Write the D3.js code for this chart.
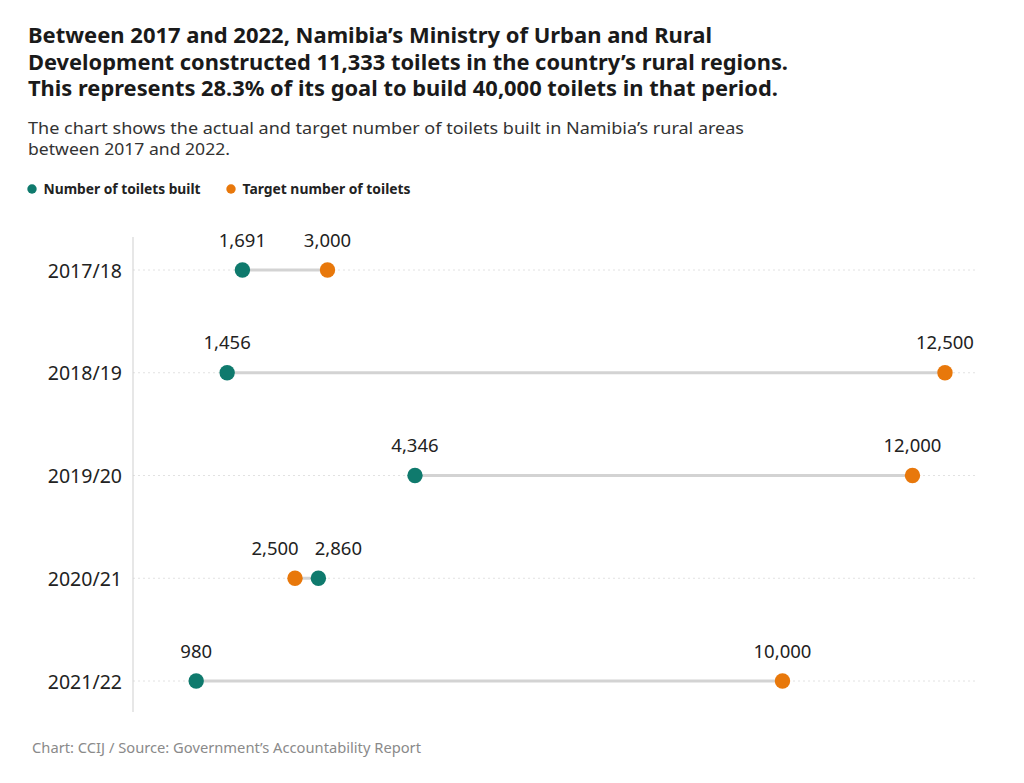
<!DOCTYPE html>
<html>
<head>
<meta charset="utf-8">
<script src="https://cdn.jsdelivr.net/npm/d3@7"></script>
<style>
  body { margin: 0; background: #fff; }
  text { font-family: "Noto Sans", sans-serif; }
</style>
</head>
<body>
<div id="chart"></div>
<script>
// data
const years = ["2017/18", "2018/19", "2019/20", "2020/21", "2021/22"];
const built = [1691, 1456, 4346, 2860, 980];
const target = [3000, 12500, 12000, 2500, 10000];

const seriesNames = ["Number of toilets built", "Target number of toilets"];
const colors = ["#0f7a6d", "#e8780b"];

const W = 1024, H = 783;
const margin = { top: 270, right: 49, bottom: 102, left: 133 };

const svg = d3.select("#chart")
    .append("svg")
    .attr("width", W)
    .attr("height", H);

// title + subtitle
const titleLines = [
    "Between 2017 and 2022, Namibia\u2019s Ministry of Urban and Rural",
    "Development constructed 11,333 toilets in the country\u2019s rural regions.",
    "This represents 28.3% of its goal to build 40,000 toilets in that period."
];
const titleWidths = [684, 760, 750];
svg.append("g")
    .selectAll("text")
    .data(titleLines)
    .join("text")
    .attr("x", 28)
    .attr("y", (d, i) => 43 + i * 26.6)
    .attr("font-size", 20.5)
    .attr("font-weight", "bold")
    .attr("fill", "#1a1a1a")
    .attr("textLength", (d, i) => titleWidths[i])
    .attr("lengthAdjust", "spacingAndGlyphs")
    .text(d => d);

const subLines = [
    "The chart shows the actual and target number of toilets built in Namibia\u2019s rural areas",
    "between 2017 and 2022."
];
const subWidths = [716, 202];
svg.append("g")
    .selectAll("text")
    .data(subLines)
    .join("text")
    .attr("x", 28)
    .attr("y", (d, i) => 134 + i * 21)
    .attr("font-size", 16.5)
    .attr("fill", "#333")
    .attr("textLength", (d, i) => subWidths[i])
    .attr("lengthAdjust", "spacingAndGlyphs")
    .text(d => d);

// legend
const legendX = [32, 231];
const legendW = [157, 168];
const legend = svg.append("g")
    .selectAll("g")
    .data(seriesNames)
    .join("g")
    .attr("transform", (d, i) => "translate(" + legendX[i] + ",189)");
legend.append("circle")
    .attr("r", 4.7)
    .attr("fill", (d, i) => colors[i]);
legend.append("text")
    .attr("x", 11.5)
    .attr("y", 5)
    .attr("font-size", 14)
    .attr("font-weight", "bold")
    .attr("fill", "#222")
    .attr("textLength", (d, i) => legendW[i])
    .attr("lengthAdjust", "spacingAndGlyphs")
    .text(d => d);

// scales
const x = d3.scaleLinear()
    .domain([0, 12962])
    .range([132.5, W - margin.right]);

const y = d3.scalePoint()
    .domain(years)
    .range([margin.top, H - margin.bottom]);

const rows = years.map((yr, i) => ({ year: yr, built: built[i], target: target[i] }));

// dotted gridlines
svg.append("g")
    .selectAll("line")
    .data(rows)
    .join("line")
    .attr("x1", margin.left)
    .attr("x2", x.range()[1])
    .attr("y1", d => y(d.year))
    .attr("y2", d => y(d.year))
    .attr("stroke", "#e2e2e2")
    .attr("stroke-width", 1)
    .attr("stroke-dasharray", "2,3");

// y axis line
svg.append("line")
    .attr("x1", margin.left)
    .attr("x2", margin.left)
    .attr("y1", 237)
    .attr("y2", 712)
    .attr("stroke", "#cfcfcf")
    .attr("stroke-width", 1);

// year labels
const yAxis = d3.axisLeft(y).tickSize(0).tickPadding(11);
svg.append("g")
    .attr("transform", "translate(" + margin.left + ",0)")
    .call(yAxis)
    .call(g => g.select(".domain").remove())
    .selectAll("text")
    .attr("font-family", "Noto Sans")
    .attr("font-size", 19.5)
    .attr("fill", "#222")
    .attr("dy", "0.36em");

// connecting lines
svg.append("g")
    .selectAll("line")
    .data(rows)
    .join("line")
    .attr("x1", d => x(d.built))
    .attr("x2", d => x(d.target))
    .attr("y1", d => y(d.year))
    .attr("y2", d => y(d.year))
    .attr("stroke", "#d3d3d3")
    .attr("stroke-width", 3);

// labels that would collide get pushed apart around the midpoint
function labelPos(d, k) {
    const other = k === "built" ? "target" : "built";
    const gap = Math.abs(x(d[k]) - x(d[other]));
    if (gap > 60) return { x: x(d[k]), anchor: "middle" };
    const mid = (x(d[k]) + x(d[other])) / 2;
    return d[k] < d[other]
        ? { x: mid - 8, anchor: "end" }
        : { x: mid + 8, anchor: "start" };
}

// dots + value labels
const keys = ["built", "target"];
keys.forEach((k, ki) => {
    const g = svg.append("g");
    g.selectAll("circle")
        .data(rows)
        .join("circle")
        .attr("cx", d => x(d[k]))
        .attr("cy", d => y(d.year))
        .attr("r", 7.7)
        .attr("fill", colors[ki]);
    g.selectAll("text")
        .data(rows)
        .join("text")
        .attr("x", d => labelPos(d, k).x)
        .attr("y", d => y(d.year) - 23.5)
        .attr("text-anchor", d => labelPos(d, k).anchor)
        .attr("font-size", 18.5)
        .attr("fill", "#222")
        .text(d => d3.format(",")(d[k]));
});

// footer
svg.append("text")
    .attr("x", 32)
    .attr("y", 753)
    .attr("font-size", 14.5)
    .attr("fill", "#8a8a8a")
    .attr("textLength", 389)
    .attr("lengthAdjust", "spacingAndGlyphs")
    .text("Chart: CCIJ / Source: Government\u2019s Accountability Report");
</script>
</body>
</html>
